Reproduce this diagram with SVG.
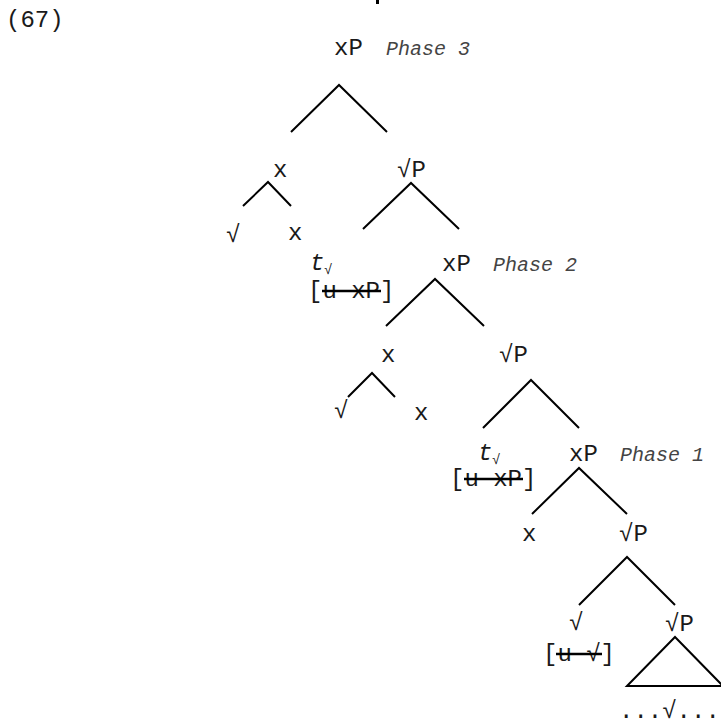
<svg xmlns="http://www.w3.org/2000/svg" width="721" height="722" viewBox="0 0 721 722">
<style>
text{font-family:"Liberation Mono","Courier New",monospace;fill:#1a1a1a;font-size:24px}
.ph{font-style:italic;font-size:20px;fill:#444}
.it{font-style:italic}
.sub{font-size:14px}
line,polyline,polygon{stroke:#000;stroke-width:2;fill:none}
.st{stroke-width:2.5}
</style>
<rect width="721" height="722" fill="#fff"/>
<rect x="376" y="0" width="3" height="4" fill="#000"/>
<text x="6" y="27">(67)</text>
<g id="n_xP3"><text x="334" y="55">xP</text><text class="ph" x="386" y="55">Phase 3</text></g>
<g id="n_x1"><text x="273" y="177">x</text></g>
<g id="n_r1"><text x="226" y="242">√</text></g>
<g id="n_x1b"><text x="288" y="240">x</text></g>
<g id="n_rP1"><text x="397" y="177">√P</text></g>
<g id="n_t1"><text class="it" x="310" y="270">t</text><text class="sub" x="324" y="274">√</text><text x="308" y="298">[u xP]</text><line class="st" x1="322" y1="291" x2="381" y2="291"/></g>
<g id="n_xP2"><text x="442" y="271">xP</text><text class="ph" x="493" y="271">Phase 2</text></g>
<g id="n_x2"><text x="381" y="362">x</text></g>
<g id="n_r2"><text x="334" y="418">√</text></g>
<g id="n_x2b"><text x="414" y="420">x</text></g>
<g id="n_rP2"><text x="499" y="362">√P</text></g>
<g id="n_t2"><text class="it" x="478" y="460">t</text><text class="sub" x="492" y="464">√</text><text x="450" y="486">[u xP]</text><line class="st" x1="464" y1="479" x2="523" y2="479"/></g>
<g id="n_xP1"><text x="569" y="461">xP</text><text class="ph" x="620" y="461">Phase 1</text></g>
<g id="n_x3"><text x="522" y="541">x</text></g>
<g id="n_rP3"><text x="619" y="541">√P</text></g>
<g id="n_r3"><text x="569" y="630">√</text></g>
<g id="n_rP4"><text x="665" y="631">√P</text></g>
<g id="n_feat"><text x="543" y="661">[u √]</text><line class="st" x1="556" y1="654" x2="602" y2="654"/></g>
<g id="n_dots"><text x="619" y="718">...√...</text></g>
<g id="edges">
<polyline points="291,132 339,85 387,132"/>
<polyline points="243,206 268,182 291,206"/>
<polyline points="363,229 411,183 459,229"/>
<polyline points="386,326 435,279 484,326"/>
<polyline points="348,397 372,373 395,397"/>
<polyline points="483,428 531,380 579,428"/>
<polyline points="532,514 579,468 627,514"/>
<polyline points="579,605 627,557 675,605"/>
<polygon points="627,686 675,637 723,686"/>
</g>
</svg>
